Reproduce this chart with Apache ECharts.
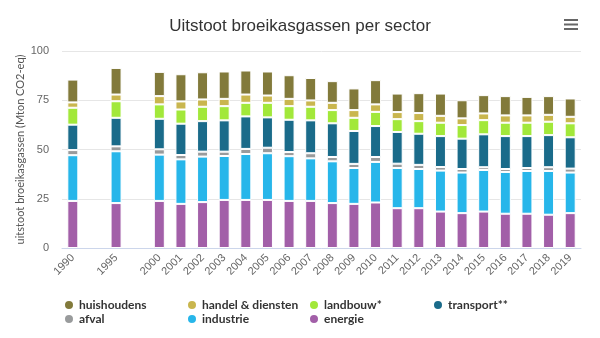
<!DOCTYPE html>
<html>
<head>
<meta charset="utf-8">
<script src="https://cdn.jsdelivr.net/npm/echarts@6/dist/echarts.min.js"></script>
<style>
html,body{margin:0;padding:0;background:#fff;}
#chart{width:600px;height:338px;}
</style>
</head>
<body>
<div id="chart"></div>
<script>
const categories = ['1990','','1995','','2000','2001','2002','2003','2004','2005','2006','2007','2008','2009','2010','2011','2012','2013','2014','2015','2016','2017','2018','2019'];
const energie     = [23.9,null,22.8,null,23.9,22.4,23.3,24.4,24.4,24.4,23.9,23.9,22.8,22.4,23.1,20.2,20.2,18.5,17.7,18.5,17.4,17.4,16.9,17.7];
const industrie   = [23.2,null,26.3,null,23.5,22.6,23.1,22.3,23.3,23.7,22.7,21.6,21.2,18.2,20.6,20.4,19.9,20.8,20.6,21.1,21.2,21.7,22.2,20.6];
const afval       = [2.6,null,2.5,null,2.7,2.2,2.5,2.2,2.6,2.8,2.1,2.6,2.2,2.1,2.5,2.2,2.1,1.8,1.8,1.4,1.5,1.5,1.9,2.0];
const transport   = [12.9,null,14.5,null,15.5,15.9,15.5,15.9,16.5,15.4,16.4,16.7,17.1,16.7,15.7,16.1,15.8,15.7,15.4,16.7,16.7,16.2,16.3,15.9];
const landbouw    = [8.6,null,8.4,null,7.3,7.2,7.3,7.2,6.9,7.4,6.9,6.9,6.7,6.7,7.2,6.5,6.4,6.8,6.9,7.2,6.8,6.8,6.8,7.1];
const handel      = [2.7,null,3.4,null,4.2,4.1,3.7,3.7,4.2,3.7,3.7,3.2,3.7,3.9,3.8,3.6,4.1,3.5,3.4,3.4,3.7,3.7,3.5,3.3];
const huishoudens = [11.6,null,13.5,null,12.3,13.8,13.8,13.9,12.2,12.2,12.0,11.4,11.0,11.0,12.3,9.4,10.1,11.3,9.2,9.3,9.8,9.4,9.5,9.3];

const seriesDefs = [
  {name:'energie', data:energie, color:'#a25fa8'},
  {name:'industrie', data:industrie, color:'#27b6ea'},
  {name:'afval', data:afval, color:'#999b9c'},
  {name:'transport**', data:transport, color:'#1a6b8a'},
  {name:'landbouw*', data:landbouw, color:'#a2e83a'},
  {name:'handel & diensten', data:handel, color:'#c9b64e'},
  {name:'huishoudens', data:huishoudens, color:'#827a3b'}
];
const legendOrder = ['huishoudens','handel & diensten','landbouw*','transport**','afval','industrie','energie'];
const yTicks = [0,25,50,75,100];

const FONT = 'Liberation Sans';
const colLeft = [58, 181, 303, 427];
const rowTop = [294, 308];
const legends = legendOrder.map((name, i) => ({
  left: colLeft[i % 4], top: rowTop[Math.floor(i / 4)],
  orient:'horizontal', icon:'circle', itemWidth:10, itemHeight:10, itemGap:0,
  textStyle:{fontFamily:'Lato', fontSize:12, fontWeight:'bold', color:'#333'},
  selectedMode:false, data:[name]
}));

const chart = echarts.init(document.getElementById('chart'), null, {renderer:'canvas'});
chart.setOption({
  animation:false,
  backgroundColor:'#fff',
  title:{text:'Uitstoot broeikasgassen per sector', left:'center', top:13,
    textStyle:{fontFamily:FONT, fontSize:17, fontWeight:'normal', color:'#333'}},
  legend: legends,
  grid:{left:62, right:19, top:51, bottom:90},
  xAxis:{type:'category', data:categories,
    axisLine:{lineStyle:{color:'#ccd6eb'}}, axisTick:{show:false},
    axisLabel:{interval:0, rotate:45, margin:8, fontFamily:FONT, fontSize:11, color:'#666'}},
  yAxis:{type:'value', min:yTicks[0], max:yTicks[yTicks.length-1], interval:25,
    name:'uitstoot broeikasgassen (Mton CO2-eq)', nameLocation:'middle', nameGap:36, nameRotate:90,
    nameMoveOverlap:false,
    nameTextStyle:{fontFamily:'Lato', fontSize:11, color:'#555'},
    axisLabel:{margin:13, fontFamily:FONT, fontSize:11, color:'#666'},
    splitLine:{lineStyle:{color:'#e6e6e6'}}, axisLine:{show:false}, axisTick:{show:false}},
  series: seriesDefs.map(s=>({
    name:s.name, type:'bar', stack:'total', data:s.data, barWidth:11,
    itemStyle:{color:s.color, borderColor:'#fff', borderWidth:1}
  })),
  graphic:[{type:'group', left:564, top:19, children:[
    {type:'rect', shape:{x:0,y:0,width:14,height:2}, style:{fill:'#666'}},
    {type:'rect', shape:{x:0,y:4.5,width:14,height:2}, style:{fill:'#666'}},
    {type:'rect', shape:{x:0,y:9,width:14,height:2}, style:{fill:'#666'}}
  ]}]
});
</script>
</body>
</html>
